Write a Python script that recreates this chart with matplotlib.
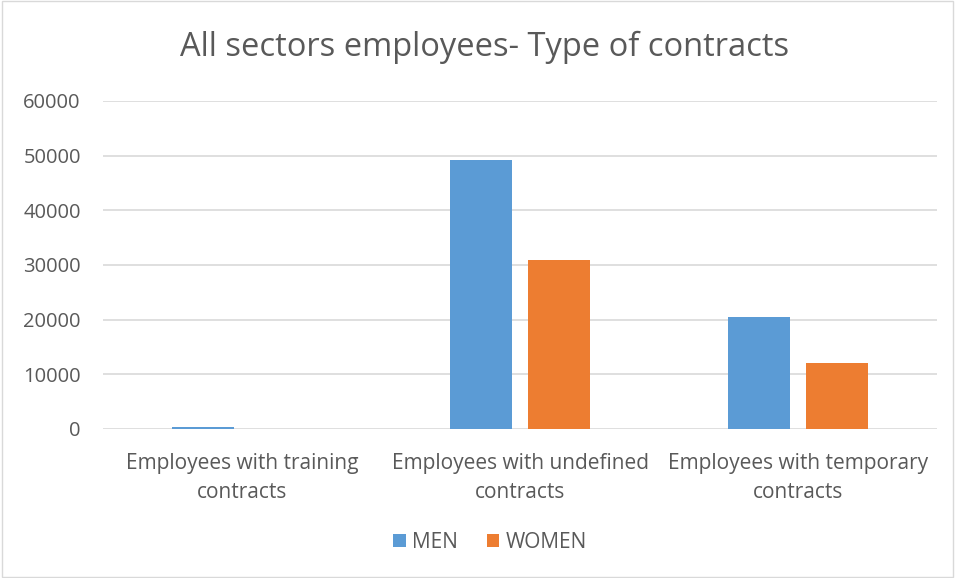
import numpy as np
import matplotlib.pyplot as plt
from matplotlib.patches import Rectangle

plt.rcParams['font.family'] = ['Open Sans', 'DejaVu Sans']

categories = ["Employees with training\ncontracts",
              "Employees with undefined\ncontracts",
              "Employees with temporary\ncontracts"]
men = [300, 49200, 20400]
women = [60, 31000, 12000]
yticks = [0, 10000, 20000, 30000, 40000, 50000, 60000]

txt = "#595959"
fig = plt.figure(figsize=(9.55, 5.78), dpi=100)
ax = fig.add_axes([103 / 955, 1 - 429 / 578, 834 / 955, 328 / 578])

x = np.arange(len(categories))
w = 0.223
gap = 0.061
ax.bar(x - (w + gap) / 2, men, w, color="#5b9bd5", label="MEN", zorder=3)
ax.bar(x + (w + gap) / 2, women, w, color="#ed7d31", label="WOMEN", zorder=3)

ax.set_xlim(-0.5, 2.5)
ax.set_ylim(0, 60000)
ax.set_yticks(yticks)
ax.set_yticklabels([str(t) for t in yticks], fontsize=14.5, color=txt)
ax.set_xticks(x)
ax.set_xticklabels(categories, fontsize=15, color=txt, linespacing=1.5)
ax.tick_params(length=0)
ax.tick_params(axis="x", pad=17)
ax.tick_params(axis="y", pad=16)
ax.grid(axis="y", color="#d9d9d9", linewidth=1.2, zorder=0)
for s in ax.spines.values():
    s.set_visible(False)

fig.text(485 / 955, 1 - 47 / 578, "All sectors employees- Type of contracts",
         ha="center", va="center", fontsize=23.5, color=txt)
fig.legend(loc="center", bbox_to_anchor=(490 / 955, 1 - 542 / 578), ncol=2,
           frameon=False, fontsize=15, labelcolor=txt, handlelength=0.6,
           handleheight=0.6, handletextpad=0.3, columnspacing=1.4)
fig.patches.append(Rectangle((0.002, 0.002), 0.996, 0.996,
                             transform=fig.transFigure, fill=False,
                             edgecolor="#d9d9d9", linewidth=1))

fig.savefig("out.png", dpi=100)
